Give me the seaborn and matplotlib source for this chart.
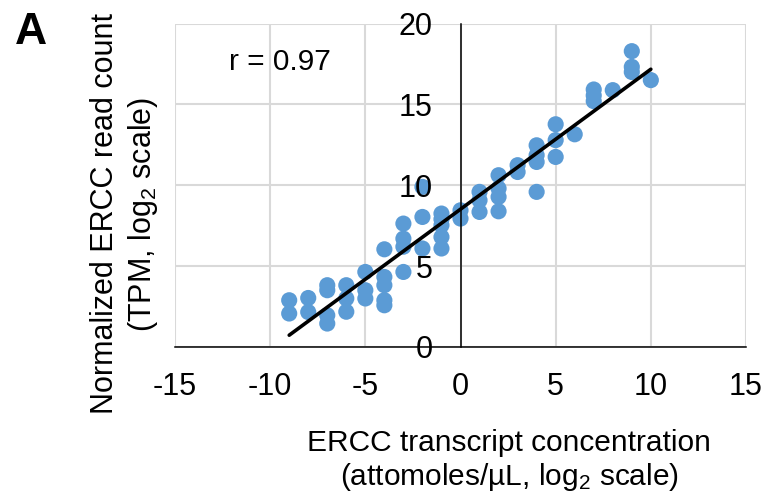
import matplotlib
matplotlib.use("Agg")
import matplotlib.pyplot as plt
import seaborn as sns
import pandas as pd

# ERCC spike-in concentration (log2 attomoles/uL) vs normalized read count (log2 TPM)
conc = [-9, -9,
        -8, -8,
        -7, -7, -7, -7,
        -6, -6, -6,
        -5, -5, -5,
        -4, -4, -4, -4, -4,
        -3, -3, -3, -3,
        -2, -2, -2,
        -1, -1, -1, -1, -1,
        0, 0,
        1, 1, 1,
        2, 2, 2, 2,
        3, 3,
        4, 4, 4, 4,
        5, 5, 5,
        6,
        7, 7, 7,
        8,
        9, 9, 9,
        10]
tpm = [2.89, 2.07,
       3.03, 2.16,
       3.82, 3.51, 1.96, 1.45,
       3.82, 3.00, 2.18,
       4.64, 3.51, 3.00,
       6.04, 4.33, 3.82, 2.89, 2.58,
       7.63, 6.70, 6.20, 4.64,
       9.90, 8.04, 6.09,
       8.25, 7.90, 7.53, 6.80, 6.09,
       8.45, 7.94,
       9.59, 9.07, 8.35,
       10.62, 9.80, 9.28, 8.39,
       11.24, 10.82,
       12.47, 11.86, 11.44, 9.59,
       13.77, 12.79, 11.75,
       13.15,
       15.92, 15.55, 15.20,
       15.88,
       18.29, 17.32, 17.00,
       16.50]
r_value = "r = 0.97"
xticks = [-15, -10, -5, 0, 5, 10, 15]
yticks = [0, 5, 10, 15, 20]

df = pd.DataFrame({"conc": conc, "tpm": tpm})

sns.set_theme(style="whitegrid")
plt.rcParams['font.family'] = ['Liberation Sans', 'DejaVu Sans']
plt.rcParams['mathtext.fontset'] = 'custom'
plt.rcParams['mathtext.rm'] = 'Liberation Sans'
plt.rcParams['mathtext.it'] = 'Liberation Sans'
plt.rcParams['axes.unicode_minus'] = False
plt.rcParams['text.color'] = 'black'

grid_col = "#D9D9D9"

fig = plt.figure(figsize=(7.69, 4.93), dpi=100)
ax = fig.add_axes([175 / 769, 1 - 347 / 493, (746 - 175) / 769, (347 - 23.5) / 493])

sns.scatterplot(data=df, x="conc", y="tpm", color="#5B9BD5", s=135,
                edgecolor="none", ax=ax, zorder=2)
sns.regplot(data=df, x="conc", y="tpm", scatter=False, ci=None, truncate=True,
            color="black", line_kws={"linewidth": 2.6, "zorder": 3}, ax=ax)

ax.set_xlim(-15, 15)
ax.set_ylim(0, 20)
ax.set_xticks(xticks)
ax.set_yticks(yticks)

# vertical grid from the x axis, horizontal grid drawn separately so that
# the y tick labels can sit above the points
ax.set_axisbelow(True)
ax.xaxis.grid(True, color=grid_col, linewidth=1.5)
ax.yaxis.grid(False)
for yv in yticks:
    ax.axhline(yv, color=grid_col, linewidth=1.5, zorder=0.4)
ax.yaxis.set_zorder(3.5)

# y axis crosses at x = 0
ax.spines['left'].set_position(('data', 0))
for s in ['left', 'bottom']:
    ax.spines[s].set_color("black")
    ax.spines[s].set_linewidth(1.1)
    ax.spines[s].set_zorder(2.5)
ax.spines['top'].set_visible(False)
ax.spines['right'].set_visible(False)

ax.tick_params(axis='both', length=0, labelsize=22, colors="black")
ax.tick_params(axis='y', pad=20)
ax.tick_params(axis='x', pad=18)
ax.set_xlabel("")
ax.set_ylabel("")

ax.text(-9.5, 17.6, r_value, fontsize=21.5, ha="center", va="center")

fig.text(509 / 769, 1 - 461 / 493,
         "ERCC transcript concentration\n(attomoles/µL, log$_2$ scale)",
         fontsize=21.5, ha="center", va="center", linespacing=1.2)
fig.text(125 / 769, 1 - 214 / 493,
         "Normalized ERCC read count\n(TPM, log$_2$ scale)",
         fontsize=22, ha="center", va="center", rotation=90, linespacing=1.25)
fig.text(31 / 769, 1 - 33 / 493, "A", fontsize=32, fontweight="bold",
         ha="center", va="center")

fig.savefig("out.png", dpi=100)
